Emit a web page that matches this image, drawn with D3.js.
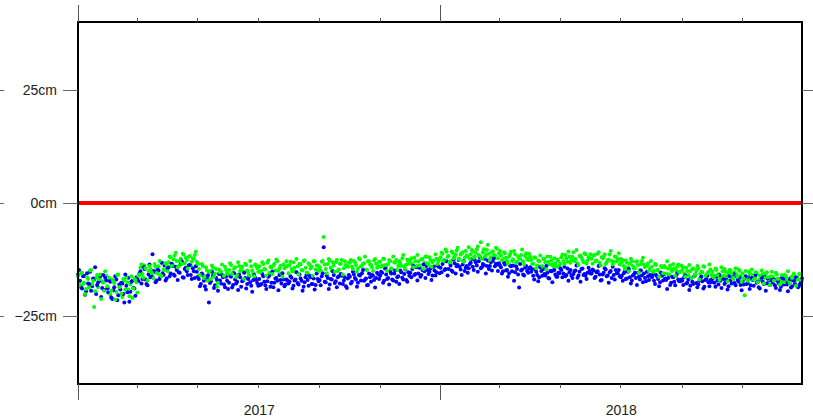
<!DOCTYPE html>
<html>
<head>
<meta charset="utf-8">
<script src="https://cdn.jsdelivr.net/npm/d3@7"></script>
<style>
    html, body { margin: 0; padding: 0; background: #fff; }
    svg { display: block; font-family: "Liberation Sans", Arial, Helvetica, sans-serif; }
</style>
</head>
<body>
<div id="wrap"></div>
<script>

// ---- data (cm) from 2017-01-01; the "A" arrays are on even samples, "B" arrays
// ---- sit half a step later. one line per month.
const startDate = new Date(2017, 0, 1);
const stepDays = 2.028;

const blueCm = [
    -15.8,-17.2,-18.9,-16.1,-19.5,-17.8,-15.2,-18.4,-16.9,-20.1,-17.5,-16.3,-18.8,-19.2,-17.1,
    -19.8,-17.4,-21.2,-18.6,-16.9,-20.4,-19.1,-17.8,-22.0,-18.3,-16.5,-19.6,-17.2,-18.9,-16.4,
    -17.3,-15.1,-16.8,-14.6,-17.9,-15.8,-16.4,-11.3,-15.2,-17.1,-14.9,-16.2,-15.5,-13.8,-16.7,
    -14.2,-15.6,-13.9,-16.1,-14.8,-15.3,-13.5,-16.4,-14.6,-15.1,-13.8,-15.9,-14.4,-16.6,-15.2,
    -16.8,-17.9,-15.9,-18.4,-16.6,-22.0,-17.3,-16.1,-18.2,-17.0,-15.7,-17.8,-16.4,-18.6,-17.2,
    -17.6,-16.3,-18.1,-16.9,-17.4,-15.8,-18.5,-17.1,-16.6,-17.9,-16.2,-18.3,-17.0,-16.5,-17.7,
    -16.8,-17.9,-16.2,-18.2,-17.3,-16.0,-17.6,-18.6,-16.7,-17.2,-15.9,-17.8,-16.9,-18.0,-17.1,
    -17.4,-16.5,-18.3,-16.9,-17.7,-15.8,-17.2,-18.5,-16.4,-17.0,-16.1,-17.9,-16.7,-18.1,-16.8,
    -17.0,-16.2,-9.8,-17.5,-16.6,-18.0,-16.9,-15.9,-17.3,-16.4,-17.8,-16.1,-17.1,-18.4,-16.7,
    -16.3,-17.4,-15.8,-16.9,-17.6,-16.0,-15.5,-17.2,-16.7,-18.1,-16.4,-15.9,-17.0,-16.6,-15.7,
    -16.1,-15.4,-17.2,-15.8,-16.6,-15.1,-16.9,-15.6,-17.4,-16.2,-14.9,-16.5,-15.7,-17.0,-15.3,
    -15.4,-14.6,-15.9,-14.2,-15.6,-16.3,-14.8,-15.1,-13.9,-15.7,-14.5,-16.0,-14.9,-15.3,-14.1,
    -14.3,-13.5,-14.8,-12.9,-14.6,-13.8,-15.2,-13.3,-14.0,-12.6,-14.7,-13.6,-15.0,-13.9,-14.4,
    -13.2,-14.1,-12.6,-13.8,-12.9,-14.4,-13.5,-12.3,-13.9,-14.6,-13.1,-12.8,-14.0,-13.6,-13.3,
    -14.2,-15.1,-13.6,-14.8,-15.5,-14.0,-13.8,-15.3,-14.6,-18.7,-14.9,-15.8,-14.3,-15.0,-14.4,
    -15.2,-16.1,-14.7,-15.9,-16.4,-15.0,-14.6,-16.0,-15.4,-16.7,-15.1,-14.9,-15.8,-16.3,-15.5,
    -14.8,-15.6,-16.2,-14.5,-15.3,-16.0,-15.7,-14.9,-16.5,-15.2,-14.6,-15.9,-16.1,-15.4,-15.0,
    -15.6,-14.9,-16.3,-15.1,-15.8,-17.0,-15.4,-14.7,-16.0,-15.3,-16.6,-15.9,-14.8,-15.5,-16.2,
    -16.1,-15.5,-16.8,-15.2,-16.4,-17.1,-15.8,-16.6,-15.4,-16.9,-16.0,-15.6,-17.3,-16.2,-15.9,
    -16.4,-17.2,-15.9,-16.8,-17.5,-16.1,-15.7,-17.0,-16.6,-18.1,-16.3,-17.4,-16.0,-16.9,-17.3,
    -17.1,-16.4,-17.8,-16.9,-18.3,-17.4,-16.2,-17.7,-18.0,-16.6,-17.3,-18.5,-16.8,-17.5,-17.0,
    -16.8,-17.6,-16.3,-18.0,-17.2,-16.5,-17.9,-16.9,-18.4,-17.1,-16.6,-17.7,-16.2,-17.4,-18.1,
    -17.3,-16.7,-17.9,-16.4,-18.2,-17.0,-16.6,-17.6,-18.6,-16.9,-17.4,-16.3,-17.8,-17.1,-16.8,
    -17.6,-18.2,-16.9,-17.8,-18.5,-17.2,-16.8,-18.0,-17.4,-18.7,-17.1,-17.9,-16.6,-18.3,-17.5
];

const blueCmB = [
    -14.8,-18.6,-16.2,-20.3,-15.5,-17.9,-19.4,-16.7,-14.2,-18.1,-17.3,-20.8,-15.9,-16.5,-18.9,
    -17.1,-20.9,-19.3,-16.2,-21.5,-18.0,-17.6,-20.1,-15.8,-19.7,-21.8,-17.4,-18.8,-20.5,-16.9,
    -15.6,-17.8,-14.1,-16.9,-18.2,-13.6,-16.3,-15.0,-17.5,-14.7,-16.8,-13.2,-15.9,-17.1,-14.4,
    -16.2,-13.4,-15.8,-14.1,-17.0,-15.4,-12.9,-16.5,-14.3,-15.9,-13.7,-16.8,-15.1,-14.0,-16.3,
    -18.4,-15.6,-17.2,-19.1,-16.0,-17.7,-15.2,-18.8,-16.5,-19.4,-17.1,-15.9,-18.0,-16.3,-19.0,
    -16.1,-18.7,-15.5,-17.8,-19.2,-16.4,-17.3,-15.4,-18.9,-16.8,-17.5,-19.6,-15.9,-17.0,-18.3,
    -18.1,-15.7,-17.4,-19.0,-16.3,-18.5,-15.2,-17.6,-16.6,-19.3,-17.0,-15.5,-18.4,-16.9,-17.8,
    -16.2,-18.9,-17.1,-15.3,-18.0,-16.7,-19.4,-17.5,-15.8,-18.3,-16.4,-17.9,-19.1,-15.6,-17.3,
    -18.2,-15.5,-17.4,-16.0,-19.0,-16.8,-15.1,-17.7,-18.6,-16.2,-15.7,-17.9,-16.4,-18.8,-15.9,
    -17.8,-15.2,-16.6,-18.5,-15.9,-17.1,-14.8,-16.9,-18.2,-15.6,-17.4,-16.1,-18.7,-15.4,-16.8,
    -15.2,-17.6,-14.5,-16.8,-18.0,-15.6,-17.1,-14.9,-16.4,-17.9,-15.3,-16.9,-14.7,-17.4,-16.1,
    -16.4,-13.9,-15.7,-17.1,-14.3,-15.9,-13.6,-16.6,-14.8,-15.2,-17.0,-14.1,-16.0,-13.8,-15.5,
    -15.3,-12.8,-14.6,-16.0,-13.2,-14.9,-12.5,-15.6,-13.7,-14.1,-15.9,-12.9,-14.3,-15.4,-13.5,
    -12.4,-14.8,-13.1,-15.2,-12.0,-14.2,-13.7,-15.6,-12.7,-13.9,-14.9,-12.2,-13.4,-15.0,-13.8,
    -15.6,-13.2,-14.9,-16.3,-13.8,-15.1,-17.2,-14.0,-15.8,-13.5,-14.7,-16.0,-13.9,-15.4,-14.2,
    -14.6,-16.9,-15.2,-17.3,-14.2,-16.1,-15.7,-13.9,-16.6,-15.0,-17.5,-14.8,-16.3,-15.4,-14.5,
    -16.4,-14.1,-15.9,-17.2,-14.8,-16.6,-15.1,-13.8,-16.0,-17.4,-14.5,-15.7,-16.8,-14.3,-15.6,
    -14.7,-16.6,-15.3,-13.9,-17.1,-15.8,-14.4,-16.2,-17.6,-15.0,-14.1,-16.9,-15.5,-14.8,-16.4,
    -17.2,-15.1,-16.7,-14.6,-17.8,-16.0,-15.4,-18.1,-16.3,-14.9,-17.5,-16.6,-15.2,-17.0,-16.1,
    -15.8,-17.9,-16.2,-18.4,-15.4,-17.1,-16.7,-19.0,-15.9,-17.6,-16.4,-18.2,-15.6,-17.3,-16.9,
    -18.1,-16.0,-17.6,-19.2,-16.5,-17.9,-15.8,-18.6,-17.2,-16.3,-18.9,-17.0,-16.1,-18.4,-17.5,
    -16.4,-18.5,-17.1,-15.9,-18.8,-16.8,-17.5,-19.1,-16.2,-17.8,-15.7,-18.2,-17.0,-16.5,-19.3,
    -18.0,-16.2,-17.7,-19.0,-16.6,-18.3,-15.9,-17.4,-18.9,-16.4,-17.9,-19.4,-16.7,-18.1,-17.2,
    -16.9,-18.8,-17.3,-19.2,-16.5,-18.0,-17.7,-19.5,-16.8,-18.4,-17.1,-16.4,-18.6,-17.9,-16.7
];

const greenCm = [
    -16.2,-18.1,-15.4,-17.6,-19.0,-16.8,-14.9,-17.9,-23.0,-16.5,-18.6,-15.8,-17.3,-19.4,-16.1,
    -18.8,-20.2,-16.9,-17.7,-19.6,-15.8,-18.3,-20.8,-17.1,-16.4,-19.1,-18.0,-21.0,-16.8,-17.5,
    -16.2,-14.3,-15.7,-13.8,-16.9,-15.1,-14.6,-16.0,-13.5,-15.4,-14.0,-15.9,-13.2,-14.8,-13.7,
    -13.1,-12.0,-13.6,-11.6,-12.8,-14.0,-12.3,-11.2,-13.3,-12.6,-11.9,-13.8,-12.2,-11.5,-13.0,
    -14.6,-15.8,-13.9,-16.2,-14.9,-15.4,-16.8,-14.3,-15.6,-18.5,-14.7,-15.2,-16.0,-14.1,-15.5,
    -14.8,-13.7,-15.3,-14.2,-15.9,-13.9,-14.6,-15.1,-13.4,-14.9,-16.1,-14.0,-15.5,-13.6,-14.4,
    -14.0,-15.0,-13.5,-14.7,-13.2,-15.4,-14.3,-13.8,-14.9,-12.9,-14.5,-15.6,-13.6,-14.2,-13.9,
    -13.7,-14.6,-13.1,-15.2,-14.0,-13.4,-14.8,-12.8,-14.3,-15.5,-13.6,-14.1,-12.9,-14.7,-13.8,
    -14.2,-13.0,-7.5,-14.6,-13.5,-12.7,-14.9,-13.8,-13.1,-15.0,-13.4,-12.6,-14.4,-13.7,-14.1,
    -13.2,-14.1,-12.8,-13.7,-14.5,-12.5,-13.9,-13.3,-14.7,-12.9,-13.6,-14.2,-12.7,-13.4,-14.0,
    -13.0,-13.8,-12.4,-14.2,-13.5,-12.8,-14.6,-13.1,-12.6,-13.9,-13.3,-12.2,-14.0,-13.6,-12.9,
    -12.7,-13.5,-12.1,-13.9,-12.9,-14.3,-12.4,-13.2,-11.8,-13.6,-12.6,-13.1,-14.0,-12.3,-12.8,
    -12.0,-11.2,-12.6,-10.8,-11.7,-12.9,-11.0,-11.9,-10.5,-12.3,-11.4,-10.9,-12.1,-11.6,-9.8,
    -11.3,-10.6,-11.8,-10.2,-11.5,-8.7,-10.9,-11.9,-10.4,-11.2,-12.0,-10.7,-11.6,-10.1,-11.1,
    -11.6,-12.4,-11.1,-12.8,-11.9,-10.8,-12.5,-11.3,-13.0,-12.2,-11.5,-12.9,-11.7,-12.3,-11.2,
    -12.6,-13.4,-12.1,-13.8,-12.9,-14.2,-12.4,-13.1,-11.8,-13.6,-12.7,-14.0,-13.3,-12.5,-13.9,
    -12.0,-12.8,-11.5,-13.0,-11.9,-12.6,-10.9,-12.4,-13.3,-11.7,-12.1,-13.1,-11.3,-12.7,-12.2,
    -12.3,-11.6,-12.9,-11.2,-13.2,-12.0,-11.8,-13.5,-12.6,-11.4,-12.8,-13.0,-11.9,-12.4,-13.6,
    -13.1,-13.9,-12.7,-14.2,-13.4,-12.9,-14.5,-13.0,-13.7,-14.8,-12.8,-13.6,-14.0,-13.3,-14.4,
    -14.1,-15.0,-13.7,-14.8,-15.3,-14.2,-13.9,-15.6,-14.5,-13.8,-15.1,-14.4,-14.9,-13.6,-15.2,
    -14.8,-15.5,-14.3,-15.9,-15.1,-14.6,-16.2,-15.0,-14.4,-15.7,-15.3,-14.1,-16.0,-15.2,-14.7,
    -15.2,-16.0,-14.8,-15.7,-16.4,-15.1,-14.6,-16.2,-15.5,-14.9,-16.6,-15.3,-15.8,-14.7,-16.1,
    -15.6,-20.4,-16.3,-15.2,-16.8,-15.9,-16.5,-15.4,-17.0,-16.1,-15.7,-16.6,-15.3,-16.9,-16.2,
    -16.3,-17.0,-15.8,-16.7,-17.3,-16.1,-15.9,-16.8,-17.5,-16.4,-16.0,-17.1,-16.6,-15.7,-16.9
];

const greenCmB = [
    -18.3,-15.6,-17.9,-20.1,-16.4,-18.7,-14.8,-17.2,-19.5,-15.9,-16.9,-21.2,-17.6,-15.1,-18.4,
    -16.5,-19.4,-17.3,-21.3,-15.9,-18.6,-20.0,-16.8,-19.1,-17.5,-20.6,-16.2,-18.9,-17.0,-19.8,
    -15.8,-13.6,-16.5,-14.4,-17.1,-13.9,-15.3,-16.7,-14.1,-15.6,-12.8,-16.2,-14.7,-13.3,-15.1,
    -11.8,-13.9,-12.5,-11.0,-14.2,-12.9,-13.4,-11.4,-12.1,-14.5,-11.7,-13.0,-12.4,-10.8,-13.5,
    -15.9,-13.5,-16.6,-14.2,-17.2,-15.0,-13.8,-16.3,-14.6,-17.6,-15.3,-13.6,-16.1,-14.8,-15.7,
    -13.3,-15.7,-14.5,-16.4,-13.1,-15.0,-14.1,-16.8,-13.7,-15.4,-12.8,-14.9,-16.2,-13.9,-15.2,
    -15.3,-13.1,-14.6,-16.0,-12.7,-14.1,-15.7,-13.4,-12.5,-15.0,-13.9,-16.3,-14.4,-12.9,-15.5,
    -13.0,-15.1,-14.3,-12.4,-15.8,-13.6,-14.9,-12.7,-15.4,-13.3,-14.5,-16.1,-12.9,-13.8,-15.0,
    -14.9,-12.8,-13.6,-15.5,-12.4,-14.3,-13.1,-15.2,-12.6,-14.7,-13.4,-15.8,-12.9,-14.0,-13.2,
    -12.6,-14.6,-13.1,-15.2,-12.2,-14.0,-13.5,-11.9,-14.8,-12.9,-13.7,-15.0,-12.4,-14.3,-13.0,
    -14.1,-12.3,-13.7,-15.0,-12.6,-14.4,-11.8,-13.2,-14.8,-12.9,-13.9,-11.5,-14.6,-12.5,-13.4,
    -12.2,-14.2,-12.9,-11.5,-13.8,-12.5,-14.6,-11.9,-13.3,-12.0,-14.1,-12.7,-11.3,-13.5,-12.4,
    -11.0,-12.8,-10.3,-11.9,-13.1,-10.7,-12.2,-11.4,-9.9,-12.5,-11.1,-13.0,-10.6,-11.8,-12.3,
    -10.4,-12.1,-11.0,-9.6,-11.7,-12.4,-10.2,-11.4,-9.2,-12.6,-10.8,-11.5,-9.9,-12.2,-10.6,
    -12.7,-10.9,-12.1,-13.4,-11.4,-12.8,-10.6,-13.1,-11.8,-12.4,-10.3,-13.6,-11.1,-12.6,-11.9,
    -13.5,-12.0,-14.4,-12.7,-11.6,-13.9,-12.3,-14.7,-13.0,-11.9,-13.6,-12.2,-14.1,-12.8,-13.4,
    -11.4,-13.5,-12.2,-10.7,-13.2,-11.9,-12.9,-10.4,-13.7,-11.6,-12.6,-11.1,-13.4,-12.0,-11.3,
    -13.4,-11.5,-12.7,-10.9,-13.8,-12.2,-11.3,-13.1,-12.5,-10.6,-13.6,-11.8,-12.9,-11.1,-12.4,
    -12.6,-14.6,-13.2,-15.1,-12.3,-13.9,-14.4,-12.9,-15.4,-13.5,-12.1,-14.2,-13.7,-15.0,-12.8,
    -15.2,-13.4,-14.8,-16.3,-13.9,-15.5,-14.2,-12.9,-15.8,-14.6,-13.5,-16.0,-14.1,-15.3,-13.8,
    -14.2,-16.3,-15.0,-13.7,-16.6,-14.5,-15.8,-13.9,-16.9,-15.2,-14.0,-16.1,-15.5,-13.6,-15.9,
    -16.4,-14.5,-15.9,-17.0,-14.2,-16.1,-15.2,-17.3,-14.8,-15.6,-16.8,-14.4,-16.3,-15.0,-17.4,
    -16.7,-15.0,-17.2,-15.6,-14.7,-16.9,-15.3,-17.5,-16.0,-14.9,-17.8,-15.5,-16.4,-18.1,-15.2,
    -17.2,-15.4,-16.8,-18.0,-15.9,-17.5,-16.2,-15.1,-17.8,-16.6,-15.6,-18.3,-16.9,-15.8,-17.0
];

const refCm = 0;                       // red reference line
const yTicks = [-25, 0, 25];
const yearLabels = [2017, 2018];
const xDomain = [new Date(2017, 0, 1), new Date(2018, 11, 31)];
const yDomain = [-40, 40];


function dateAt(i, half) {
    return new Date(startDate.getTime() + (i + (half ? 0.5 : 0)) * stepDays * 864e5);
}

function createChart() {
    const W = 813, H = 420;
    const left = 78, right = 802, top = 22, bottom = 384;

    const x = d3.scaleTime().domain(xDomain).range([left, right]);
    const y = d3.scaleLinear().domain(yDomain).range([bottom, top]);

    const svg = d3.create("svg")
        .attr("width", W)
        .attr("height", H)
        .attr("viewBox", [0, 0, W, H]);

    // points (blue / green interleaved so both show through)
    const series = [
        {vals: blueCm, half: false, color: "#0000ff"},
        {vals: greenCm, half: false, color: "#00ff00"},
        {vals: blueCmB, half: true, color: "#0000ff"},
        {vals: greenCmB, half: true, color: "#00ff00"}
    ];
    series.forEach(s => {
        svg.append("g")
            .attr("fill", s.color)
        .selectAll("circle")
        .data(s.vals)
        .join("circle")
            .attr("cx", (d, i) => x(dateAt(i, s.half)))
            .attr("cy", d => y(d))
            .attr("r", 2)
            ;
    });

    // red reference line
    svg.append("line")
        .attr("x1", left).attr("x2", right)
        .attr("y1", y(refCm)).attr("y2", y(refCm))
        .attr("stroke", "#ff0000")
        .attr("stroke-width", 4)
        ;

    // frame
    svg.append("rect")
        .attr("x", left).attr("y", top)
        .attr("width", right - left).attr("height", bottom - top)
        .attr("fill", "none")
        .attr("stroke", "#000")
        .attr("stroke-width", 2)
        ;

    // y ticks + labels
    const yt = svg.append("g").attr("stroke", "#666").attr("stroke-width", 1);
    yTicks.forEach(v => {
        let py = Math.round(y(v)) + 0.5;
        yt.append("line").attr("x1", left - 15).attr("x2", left).attr("y1", py).attr("y2", py);
        yt.append("line").attr("x1", right).attr("x2", right + 12).attr("y1", py).attr("y2", py);
        yt.append("line").attr("x1", 0).attr("x2", 4).attr("y1", py).attr("y2", py);
    });
    svg.append("g")
        .attr("font-size", 14)
        .attr("fill", "#222")
        .attr("text-anchor", "end")
    .selectAll("text")
    .data(yTicks)
    .join("text")
        .attr("x", 57)
        .attr("y", d => y(d) + 5)
        .text(d => (d < 0 ? "\u2212" + Math.abs(d) : d) + "cm")
        ;

    // x ticks: years (long) and every 2 months (short)
    const xt = svg.append("g").attr("stroke", "#555").attr("stroke-width", 1);
    const months = d3.timeMonth.every(2).range(xDomain[0], xDomain[1]);
    months.forEach(m => {
        let px = Math.round(x(m)) + 0.5;
        let major = m.getMonth() === 0;
        xt.append("line").attr("x1", px).attr("x2", px)
            .attr("y1", top - (major ? 17 : 4)).attr("y2", top);
        xt.append("line").attr("x1", px).attr("x2", px)
            .attr("y1", bottom).attr("y2", bottom + (major ? 16 : 4));
    });

    svg.append("g")
        .attr("font-size", 14)
        .attr("fill", "#222")
        .attr("text-anchor", "middle")
    .selectAll("text")
    .data(yearLabels)
    .join("text")
        .attr("x", d => (x(new Date(d, 0, 1)) + Math.min(right, x(new Date(d + 1, 0, 1)))) / 2)
        .attr("y", 415)
        .text(d => d)
        ;

    return svg.node();
}

d3.select("#wrap").node().appendChild(createChart());

</script>
</body>
</html>
